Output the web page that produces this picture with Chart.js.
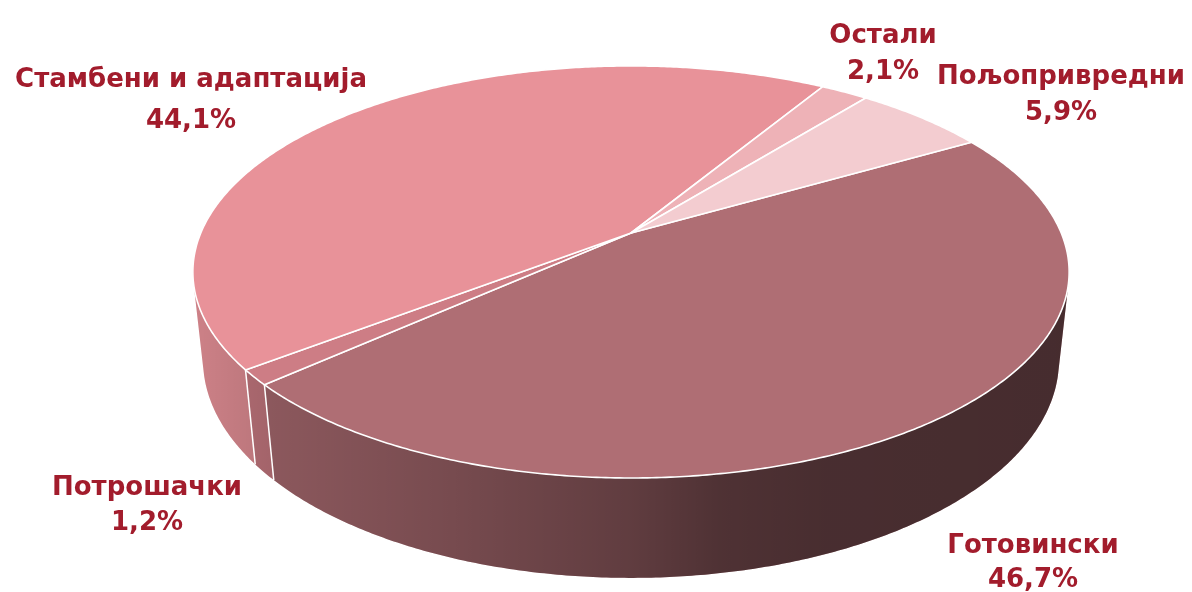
<!DOCTYPE html>
<html>
<head>
<meta charset="utf-8">
<script src="https://cdn.jsdelivr.net/npm/chart.js@4.4.0/dist/chart.umd.min.js"></script>
<style>
body { margin: 0; background: #fff; }
#wrap { width: 1192px; height: 592px; position: relative; }
</style>
</head>
<body>
<div id="wrap"><canvas id="chart"></canvas></div>
<script>
var kategorije = ['Готовински', 'Потрошачки', 'Стамбени и адаптација', 'Остали', 'Пољопривредни'];
var udeli = [46.7, 1.2, 44.1, 2.1, 5.9];
var boje = ['#AF6E74', '#CD7D85', '#E89299', '#EEB2B7', '#F3CCD0'];

// where the labels sit: center x, baseline of name, baseline of percent
var natpisi = [[1033, 553, 587], [147, 495, 530], [191, 87, 128], [883, 43, 79], [1061, 84, 120]];

// perspective camera for the 3d look
var TILT = 27.5 * Math.PI / 180, DIST = 4.69, DEPTH = 0.233, FOCAL = 8.66;

function tacka(arc, u, v, z) {
  var f = FOCAL * arc.outerRadius;
  var den = DIST - v * Math.cos(TILT) - z * Math.sin(TILT);
  return [arc.x + f * u / den, arc.y + f * (v * Math.sin(TILT) - z * Math.cos(TILT)) / den];
}
function rub(arc, t, z) { return tacka(arc, Math.cos(t), Math.sin(t), z); }

function luk(ctx, arc, a, b, z, first) {
  var n = Math.max(2, Math.ceil(Math.abs(b - a) / (Math.PI / 360)));
  for (var i = 0; i <= n; i++) {
    var p = rub(arc, a + (b - a) * i / n, z);
    if (i === 0 && first) ctx.moveTo(p[0], p[1]); else ctx.lineTo(p[0], p[1]);
  }
}

var pita3d = {
  id: 'pita3d',
  beforeDatasetsDraw: function (chart) {
    var ctx = chart.ctx;
    var lukovi = chart.getDatasetMeta(0).data;
    var r = lukovi[0].outerRadius, cx = lukovi[0].x;
    var t1 = Math.asin(1 / (DIST * Math.cos(TILT))), t2 = Math.PI - t1;

    var senka = ctx.createLinearGradient(cx - 1.9 * r, 0, cx + 1.9 * r, 0);
    senka.addColorStop(0, 'rgba(0,0,0,0.11)');
    senka.addColorStop(0.09, 'rgba(0,0,0,0.2)');
    senka.addColorStop(0.3, 'rgba(0,0,0,0.32)');
    senka.addColorStop(0.5, 'rgba(0,0,0,0.45)');
    senka.addColorStop(0.6, 'rgba(0,0,0,0.55)');
    senka.addColorStop(0.72, 'rgba(0,0,0,0.59)');
    senka.addColorStop(1, 'rgba(0,0,0,0.6)');

    // side walls
    var ivice = [];
    lukovi.forEach(function (arc, i) {
      for (var k = -1; k <= 1; k++) {
        var a = Math.max(arc.startAngle, t1 + 2 * Math.PI * k);
        var b = Math.min(arc.endAngle, t2 + 2 * Math.PI * k);
        if (b <= a) continue;
        ctx.beginPath();
        luk(ctx, arc, a, b, 0, true);
        luk(ctx, arc, b, a, -DEPTH, false);
        ctx.closePath();
        ctx.fillStyle = boje[i];
        ctx.fill();
        ctx.fillStyle = senka;
        ctx.fill();
        if (a > t1 + 2 * Math.PI * k + 0.01) ivice.push([arc, a]);
      }
    });
    ctx.strokeStyle = '#fff';
    ctx.lineWidth = 1.5;
    ivice.forEach(function (e) {
      var p = rub(e[0], e[1], 0), q = rub(e[0], e[1], -DEPTH);
      ctx.beginPath();
      ctx.moveTo(p[0], p[1]);
      ctx.lineTo(q[0], q[1]);
      ctx.stroke();
    });

    // top faces
    lukovi.forEach(function (arc, i) {
      var c = tacka(arc, 0, 0, 0);
      ctx.beginPath();
      ctx.moveTo(c[0], c[1]);
      luk(ctx, arc, arc.startAngle, arc.endAngle, 0, false);
      ctx.closePath();
      ctx.fillStyle = boje[i];
      ctx.fill();
      ctx.lineJoin = 'round';
      ctx.lineWidth = 1.6;
      ctx.strokeStyle = '#fff';
      ctx.stroke();
    });
    return false;
  },
  afterDraw: function (chart) {
    var ctx = chart.ctx;
    ctx.save();
    ctx.fillStyle = '#A21C2C';
    ctx.textAlign = 'center';
    ctx.textBaseline = 'alphabetic';
    ctx.font = 'bold 26px "DejaVu Sans", sans-serif';
    kategorije.forEach(function (k, i) {
      var n = natpisi[i];
      ctx.fillText(k, n[0], n[1]);
      ctx.fillText(udeli[i].toFixed(1).replace('.', ',') + '%', n[0], n[2]);
    });
    ctx.restore();
  }
};

var chart = new Chart('chart', {
  type: 'pie',
  data: {
    labels: kategorije,
    datasets: [{
      data: udeli,
      backgroundColor: boje,
      borderWidth: 0
    }]
  },
  options: {
    responsive: true,
    maintainAspectRatio: false,
    animation: false,
    rotation: 60,
    layout: { padding: { left: 70, top: 0, right: 0, bottom: 126 } },
    plugins: { legend: { display: false }, tooltip: { enabled: false } }
  },
  plugins: [pita3d]
});
</script>
</body>
</html>
